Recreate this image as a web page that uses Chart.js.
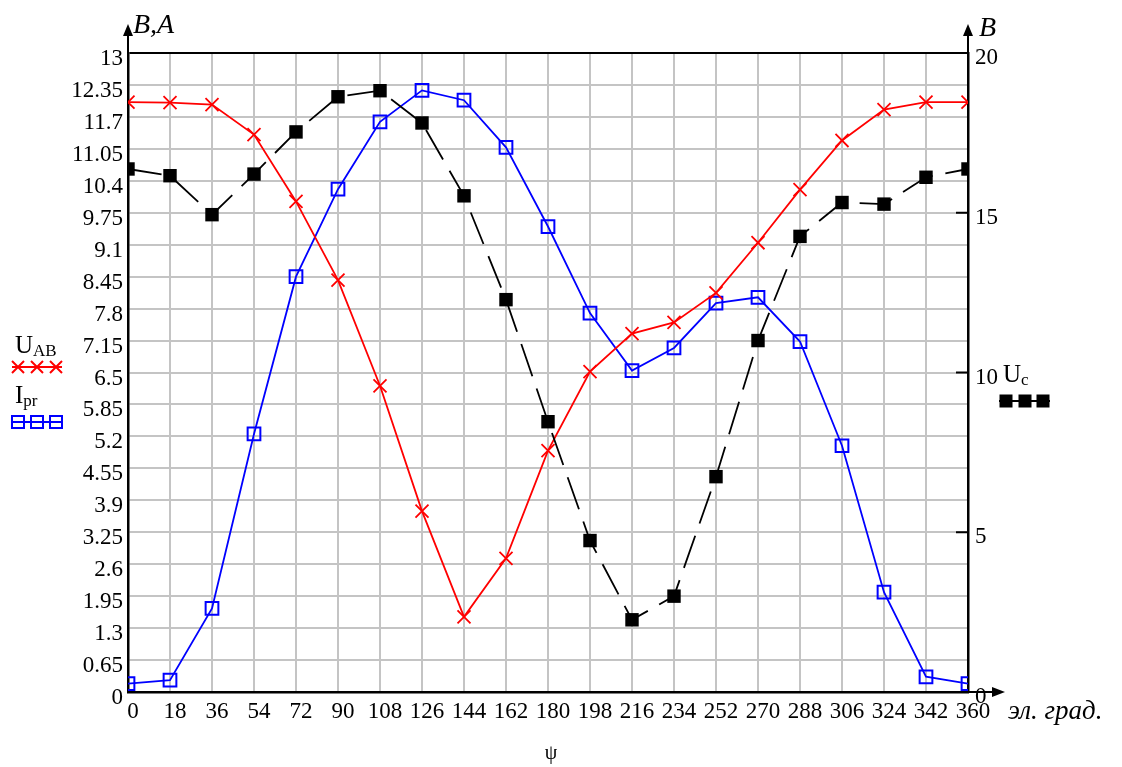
<!DOCTYPE html>
<html>
<head>
<meta charset="utf-8">
<script src="https://cdn.jsdelivr.net/npm/chart.js@4.4.1/dist/chart.umd.min.js"></script>
<style>
  html, body { margin: 0; padding: 0; background: #fff; }
  #wrap { width: 1122px; height: 767px; position: relative; }
</style>
</head>
<body>
<div id="wrap"><canvas id="c" width="1122" height="767"></canvas></div>
<script>
// Electrical angle, degrees
const angles = [0, 18, 36, 54, 72, 90, 108, 126, 144, 162, 180, 198, 216, 234, 252, 270, 288, 306, 324, 342, 360];

// Line voltage U_AB, V (left axis)
const uAB = [12.0, 11.99, 11.95, 11.34, 9.98, 8.38, 6.23, 3.68, 1.53, 2.72, 4.91, 6.52, 7.29, 7.52, 8.12, 9.14, 10.22, 11.22, 11.85, 12.0, 12.0];

// Converter current I_pr, A (left axis)
const iPr = [0.17, 0.24, 1.70, 5.25, 8.45, 10.23, 11.6, 12.24, 12.04, 11.08, 9.47, 7.71, 6.54, 7.0, 7.91, 8.03, 7.13, 5.01, 2.03, 0.31, 0.17];

// Capacitor voltage U_c, V (right axis)
const uC = [16.37, 16.16, 14.94, 16.21, 17.53, 18.63, 18.82, 17.81, 15.53, 12.28, 8.46, 4.74, 2.26, 3.0, 6.74, 11.0, 14.26, 15.32, 15.27, 16.11, 16.37];

// Tick labels
const xTickLabels = ['0','18','36','54','72','90','108','126','144','162','180','198','216','234','252','270','288','306','324','342','360'];
const leftTickLabels = ['0','0.65','1.3','1.95','2.6','3.25','3.9','4.55','5.2','5.85','6.5','7.15','7.8','8.45','9.1','9.75','10.4','11.05','11.7','12.35','13'];
const rightTickLabels = ['0','5','10','15','20'];

const SERIF = '"Liberation Serif", "DejaVu Serif", serif';
const GRID = '#c4c4c4';
const TICK_FONT = { family: SERIF, size: 23 };

const pts = (ys) => angles.map((a, i) => ({ x: a, y: ys[i] }));

// Axis arrows, axis captions, inner ticks of the right axis and the legend
const decorations = {
  id: 'decorations',
  afterDraw(chart) {
    const ctx = chart.ctx;
    const a = chart.chartArea;
    const y2 = chart.scales.y2;
    ctx.save();
    ctx.strokeStyle = '#000';
    ctx.fillStyle = '#000';
    ctx.lineWidth = 2;

    // inner ticks on the right axis
    rightTickLabels.forEach(t => {
      const py = y2.getPixelForValue(parseFloat(t));
      ctx.beginPath();
      ctx.moveTo(a.right - 12, py);
      ctx.lineTo(a.right, py);
      ctx.stroke();
    });

    // vertical axis arrows
    const upArrow = (x) => {
      ctx.beginPath();
      ctx.moveTo(x, a.top);
      ctx.lineTo(x, a.top - 20);
      ctx.stroke();
      ctx.beginPath();
      ctx.moveTo(x, a.top - 29);
      ctx.lineTo(x - 5, a.top - 17);
      ctx.lineTo(x + 5, a.top - 17);
      ctx.closePath();
      ctx.fill();
    };
    upArrow(a.left);
    upArrow(a.right);

    // horizontal axis arrow
    ctx.beginPath();
    ctx.moveTo(a.right, a.bottom);
    ctx.lineTo(a.right + 26, a.bottom);
    ctx.stroke();
    ctx.beginPath();
    ctx.moveTo(a.right + 37, a.bottom);
    ctx.lineTo(a.right + 24, a.bottom - 5);
    ctx.lineTo(a.right + 24, a.bottom + 5);
    ctx.closePath();
    ctx.fill();

    // axis captions
    ctx.textBaseline = 'alphabetic';
    ctx.textAlign = 'left';
    ctx.font = 'italic 28px ' + SERIF;
    ctx.fillText('B,A', a.left + 5, 33);
    ctx.fillText('B', a.right + 11, 36);
    ctx.font = 'italic 27px ' + SERIF;
    ctx.fillText('эл. град.', a.right + 40, 719);
    ctx.font = '20px ' + SERIF;
    ctx.textAlign = 'center';
    ctx.fillText('ψ', 551, 759);

    // legend entries
    const drawLabel = (x, y, main, sub) => {
      ctx.textAlign = 'left';
      ctx.fillStyle = '#000';
      ctx.font = '25px ' + SERIF;
      ctx.fillText(main, x, y);
      const w = ctx.measureText(main).width;
      ctx.font = '17px ' + SERIF;
      ctx.fillText(sub, x + w, y + 3);
    };
    const cross = (x, y, color) => {
      ctx.strokeStyle = color;
      ctx.lineWidth = 2;
      ctx.beginPath();
      ctx.moveTo(x - 6, y - 6); ctx.lineTo(x + 6, y + 6);
      ctx.moveTo(x + 6, y - 6); ctx.lineTo(x - 6, y + 6);
      ctx.stroke();
    };
    const square = (x, y, color, filled) => {
      ctx.strokeStyle = color;
      ctx.fillStyle = color;
      ctx.lineWidth = 2;
      if (filled) ctx.fillRect(x - 6.5, y - 6.5, 13, 13);
      else ctx.strokeRect(x - 6, y - 6, 12, 12);
    };
    const legendLine = (x0, x1, y, color) => {
      ctx.strokeStyle = color;
      ctx.lineWidth = 2;
      ctx.beginPath();
      ctx.moveTo(x0, y); ctx.lineTo(x1, y);
      ctx.stroke();
    };

    drawLabel(15, 353, 'U', 'AB');
    legendLine(12, 62, 367, '#ff0000');
    [18, 37, 56].forEach(x => cross(x, 367, '#ff0000'));

    drawLabel(15, 403, 'I', 'pr');
    legendLine(12, 62, 422, '#0000ff');
    [18, 37, 56].forEach(x => square(x, 422, '#0000ff', false));

    drawLabel(1003, 382, 'U', 'c');
    legendLine(999, 1050, 401, '#000');
    [1006, 1025, 1043].forEach(x => square(x, 401, '#000', true));

    ctx.restore();
  }
};

new Chart(document.getElementById('c'), {
  type: 'line',
  data: {
    datasets: [
      {
        label: 'U_c',
        data: pts(uC),
        yAxisID: 'y2',
        borderColor: '#000',
        borderWidth: 1.8,
        borderDash: [34, 13],
        pointStyle: 'rect',
        pointRadius: 9.5,
        pointHoverRadius: 9.5,
        pointBorderWidth: 0,
        pointBackgroundColor: '#000',
        pointBorderColor: '#000',
        tension: 0,
        clip: 0
      },
      {
        label: 'U_AB',
        data: pts(uAB),
        yAxisID: 'y',
        borderColor: '#ff0000',
        borderWidth: 1.8,
        pointStyle: 'crossRot',
        pointRadius: 9.2,
        pointHoverRadius: 9.2,
        pointBorderWidth: 1.8,
        pointBorderColor: '#ff0000',
        pointBackgroundColor: '#ff0000',
        tension: 0,
        clip: 0
      },
      {
        label: 'I_pr',
        data: pts(iPr),
        yAxisID: 'y',
        borderColor: '#0000ff',
        borderWidth: 1.8,
        pointStyle: 'rect',
        pointRadius: 9,
        pointHoverRadius: 9,
        pointBorderWidth: 2,
        pointBorderColor: '#0000ff',
        pointBackgroundColor: 'rgba(0,0,0,0)',
        tension: 0,
        clip: 0
      }
    ]
  },
  options: {
    responsive: false,
    animation: false,
    events: [],
    layout: { padding: { top: 53, left: 0, right: 0, bottom: 0 } },
    plugins: { legend: { display: false }, tooltip: { enabled: false }, title: { display: false } },
    scales: {
      x: {
        type: 'linear',
        min: 0,
        max: 360,
        afterBuildTicks: (s) => { s.ticks = xTickLabels.map(t => ({ value: parseFloat(t) })); },
        afterFit: (s) => { s.height = 75; },
        ticks: {
          callback: (v, i) => xTickLabels[i],
          font: TICK_FONT,
          color: '#000',
          padding: 6,
          labelOffset: 5,
          maxRotation: 0,
          autoSkip: false
        },
        grid: { color: GRID, lineWidth: 2, drawTicks: false },
        border: { color: '#000', width: 2.5 }
      },
      y: {
        position: 'left',
        min: 0,
        max: 13,
        afterBuildTicks: (s) => { s.ticks = leftTickLabels.map(t => ({ value: parseFloat(t) })); },
        afterFit: (s) => { s.width = 128; },
        ticks: {
          callback: (v, i) => leftTickLabels[i],
          font: TICK_FONT,
          color: '#000',
          padding: 5,
          labelOffset: 6,
          autoSkip: false
        },
        grid: {
          color: (c) => (c.tick && c.tick.value === 13 ? '#000' : GRID),
          lineWidth: 2,
          drawTicks: false
        },
        border: { color: '#000', width: 2.5 }
      },
      y2: {
        position: 'right',
        min: 0,
        max: 20,
        afterBuildTicks: (s) => { s.ticks = rightTickLabels.map(t => ({ value: parseFloat(t) })); },
        afterFit: (s) => { s.width = 154; },
        ticks: {
          callback: (v, i) => rightTickLabels[i],
          font: TICK_FONT,
          color: '#000',
          padding: 7,
          labelOffset: 5,
          autoSkip: false
        },
        grid: { drawOnChartArea: false, drawTicks: false },
        border: { color: '#000', width: 2.5 }
      }
    }
  },
  plugins: [decorations]
});
</script>
</body>
</html>
